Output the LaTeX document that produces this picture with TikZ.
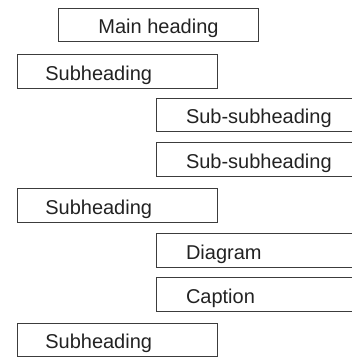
\documentclass[tikz,border=0pt]{standalone}
\usepackage{fontspec}
\setmainfont{Liberation Sans}
\definecolor{edge}{HTML}{3C3C3C}
\definecolor{ink}{HTML}{222222}
\begin{document}
\begin{tikzpicture}[x=1pt,y=-1pt,
  label text/.style={text=ink, outer sep=0pt,
    font=\fontsize{20}{24}\selectfont, minimum height=33.5pt,
    inner ysep=0pt, text height=17.5pt, text depth=0pt, anchor=west},
  headbox/.style={label text, draw=edge, line width=1pt, minimum width=200pt},
  subbox/.style={label text, inner xsep=28pt},
  leafbox/.style={label text, inner xsep=30pt},
  frame/.style={draw=edge, line width=1pt},
]
\useasboundingbox (0,0) rectangle (352,358);

% main heading: centred in a closed box
\node[headbox] (main) at (58.5,25) {Main heading};

% subheadings: closed boxes 200pt wide
\node[subbox] (subA) at (17.3,71.5)  {Subheading};
\node[subbox] (subB) at (17.3,205.5) {Subheading};
\node[subbox] (subC) at (17.3,340)   {Subheading};
\foreach \n in {subA,subB,subC}
  \draw[frame] (\n.north west) rectangle ++(200,33.5);

% indented entries: open on the right, running to the edge
\node[leafbox] (subsubA) at (156,115)   {Sub-subheading};
\node[leafbox] (subsubB) at (156,159.3) {Sub-subheading};
\node[leafbox] (diagram) at (156,250.7) {Diagram};
\node[leafbox] (caption) at (156,294.3) {Caption};
\foreach \n in {subsubA,subsubB,diagram,caption}
  \draw[frame] (\n.north west) ++(196,0) -- (\n.north west)
    -- (\n.south west) -- ++(196,0);
\end{tikzpicture}
\end{document}
